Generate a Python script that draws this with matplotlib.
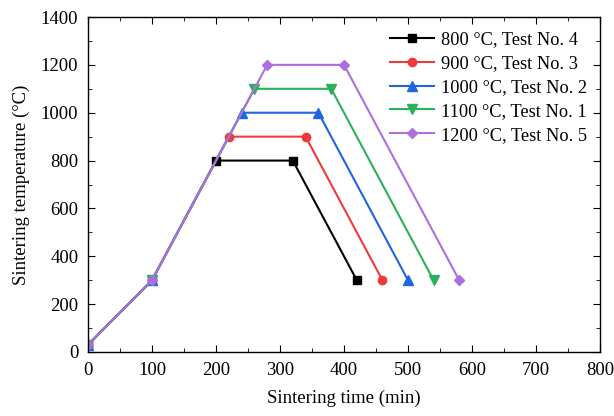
import numpy as np
import matplotlib.pyplot as plt

plt.rcParams['font.family'] = 'Liberation Serif'

# perfis de sinterizacao: tempo (min) e temperatura (C)
t_800 = [0, 100, 200, 320, 420]
T_800 = [30, 300, 800, 800, 300]
t_900 = [0, 100, 220, 340, 460]
T_900 = [30, 300, 900, 900, 300]
t_1000 = [0, 100, 240, 360, 500]
T_1000 = [30, 300, 1000, 1000, 300]
t_1100 = [0, 100, 260, 380, 540]
T_1100 = [30, 300, 1100, 1100, 300]
t_1200 = [0, 100, 280, 400, 580]
T_1200 = [30, 300, 1200, 1200, 300]

rotulos = ['800 °C, Test No. 4', '900 °C, Test No. 3', '1000 °C, Test No. 2',
           '1100 °C, Test No. 1', '1200 °C, Test No. 5']

fig = plt.figure(figsize=(6.14, 4.16), dpi=100)
ax = fig.add_axes([88/614, 1-352/416, 512/614, 335/416])

ax.plot(t_800, T_800, color='black', marker='s', ms=5.5, lw=1.5, label=rotulos[0])
ax.plot(t_900, T_900, color='#f03a3a', marker='o', ms=6, lw=1.5, label=rotulos[1])
ax.plot(t_1000, T_1000, color='#1f66e0', marker='^', ms=6.5, lw=1.5, label=rotulos[2])
ax.plot(t_1100, T_1100, color='#2db05a', marker='v', ms=6.5, lw=1.5, label=rotulos[3])
ax.plot(t_1200, T_1200, color='#ad6fe0', marker='D', ms=5.5, lw=1.5, label=rotulos[4])

ax.set_xlim(0, 800)
ax.set_ylim(0, 1400)
ax.set_xticks(np.arange(0, 801, 100))
ax.set_yticks(np.arange(0, 1401, 200))
ax.set_xticks(np.arange(0, 801, 50), minor=True)
ax.set_yticks(np.arange(0, 1401, 100), minor=True)
ax.tick_params(which='both', direction='in', top=True, right=True, labelsize=13.5)
ax.tick_params(which='major', length=5, pad=7)
ax.tick_params(which='minor', length=3)
for s in ax.spines.values():
    s.set_linewidth(1.0)

ax.set_xlabel('Sintering time (min)', fontsize=13.5, labelpad=8)
ax.set_ylabel('Sintering temperature (°C)', fontsize=13.5, labelpad=8)

ax.legend(loc='upper right', bbox_to_anchor=(1.0, 0.995), frameon=False, fontsize=13.2,
          handlelength=2.4, handletextpad=0.4, labelspacing=0.37, borderaxespad=0.3)

plt.savefig('out.png', dpi=100)
